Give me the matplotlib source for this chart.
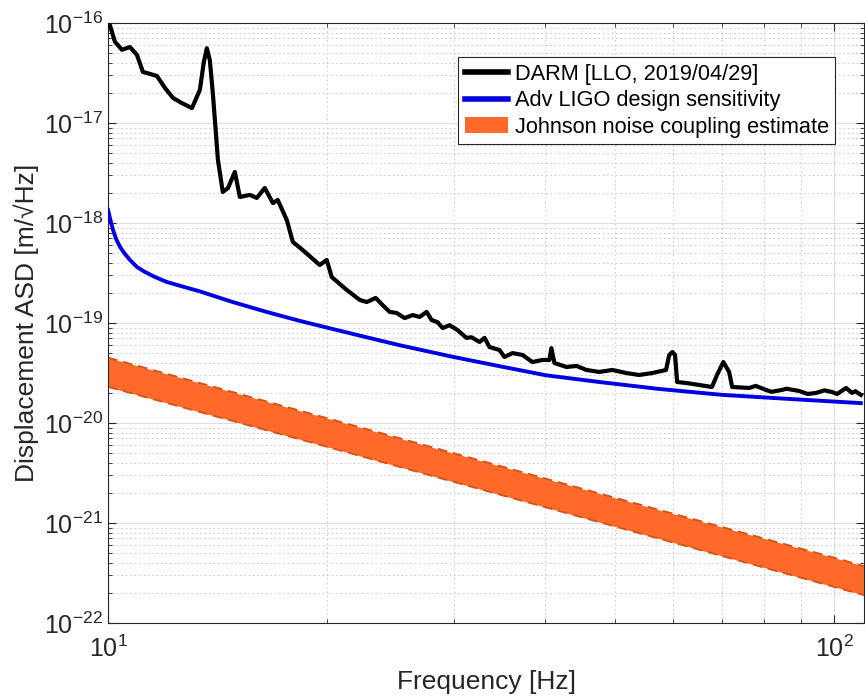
import numpy as np
import matplotlib
matplotlib.use("Agg")
import matplotlib.pyplot as plt
from matplotlib.patches import Patch
from matplotlib.ticker import LogLocator, NullFormatter

plt.rcParams["font.family"] = ["Liberation Sans", "DejaVu Sans"]
plt.rcParams["axes.unicode_minus"] = False

# DARM spectrum
darm_f = [10.00, 10.06, 10.22, 10.45, 10.72, 10.96, 11.17, 11.42, 11.68, 11.98,
          12.29, 12.64, 13.05, 13.38, 13.55, 13.68, 13.81, 13.95, 14.17, 14.39,
          14.63, 14.95, 15.19, 15.68, 16.03, 16.44, 16.87, 17.13, 17.63, 17.97,
          18.54, 19.57, 20.01, 20.33, 21.32, 22.22, 22.72, 23.37, 23.89, 24.43,
          24.97, 25.62, 26.28, 26.87, 27.47, 27.91, 28.44, 28.90, 29.54, 30.29,
          31.17, 31.67, 32.49, 33.01, 33.53, 34.61, 35.16, 36.07, 37.23, 38.42,
          39.66, 40.55, 40.80, 41.20, 42.8, 44.2, 45.6, 47.5, 49.5, 51.75,
          53.9, 56.2, 58.7, 59.3, 59.9, 60.4, 60.8, 62.6, 65.2, 67.9,
          69.0, 70.4, 71.7, 72.4, 76.4, 78.0, 80.6, 82.0, 84.8, 86.0,
          89.5, 92.0, 94.5, 97.0, 99.4, 101.0, 103.9, 105.9, 107.0, 108.9]
darm_asd = [1.00e-16, 9.5e-17, 6.5e-17, 5.4e-17, 5.75e-17, 4.8e-17, 3.24e-17, 3.1e-17, 2.95e-17, 2.24e-17,
            1.78e-17, 1.58e-17, 1.41e-17, 2.14e-17, 4.07e-17, 5.6e-17, 4.27e-17, 1.9e-17, 4.27e-18, 2.04e-18,
            2.24e-18, 3.24e-18, 1.82e-18, 1.91e-18, 1.78e-18, 2.24e-18, 1.58e-18, 1.70e-18, 1.07e-18, 6.46e-19,
            5.37e-19, 3.80e-19, 4.27e-19, 2.88e-19, 2.14e-19, 1.70e-19, 1.62e-19, 1.78e-19, 1.51e-19, 1.29e-19,
            1.26e-19, 1.12e-19, 1.20e-19, 1.15e-19, 1.29e-19, 1.07e-19, 1.02e-19, 8.9e-20, 9.5e-20, 8.5e-20,
            7.1e-20, 7.2e-20, 6.46e-20, 7.1e-20, 5.75e-20, 5.37e-20, 4.57e-20, 5.0e-20, 4.79e-20, 4.07e-20,
            4.27e-20, 4.27e-20, 5.6e-20, 3.98e-20, 3.63e-20, 3.72e-20, 3.39e-20, 3.24e-20, 3.39e-20, 3.16e-20,
            3.02e-20, 3.16e-20, 3.39e-20, 4.79e-20, 5.13e-20, 4.79e-20, 2.57e-20, 2.51e-20, 2.40e-20, 2.29e-20,
            3.02e-20, 4.07e-20, 3.24e-20, 2.29e-20, 2.24e-20, 2.35e-20, 2.14e-20, 2.05e-20, 2.14e-20, 2.2e-20,
            2.09e-20, 1.95e-20, 2.0e-20, 2.12e-20, 2.04e-20, 1.95e-20, 2.24e-20, 2.0e-20, 2.08e-20, 1.91e-20]

# aLIGO design curve
aligo_f = [10.00, 10.06, 10.16, 10.26, 10.39, 10.55, 10.72, 10.96, 11.24, 11.61,
           12.05, 12.68, 13.38, 14.85, 16.54, 18.37, 20.4, 22.7, 25.2, 29.8,
           34.6, 40.1, 47.5, 57.4, 70.2, 86.7, 108.9]
aligo_asd = [1.35e-18, 1.12e-18, 8.5e-19, 6.9e-19, 5.75e-19, 4.9e-19, 4.27e-19, 3.63e-19, 3.24e-19, 2.88e-19,
             2.57e-19, 2.31e-19, 2.07e-19, 1.62e-19, 1.29e-19, 1.05e-19, 8.7e-20, 7.2e-20, 6.0e-20, 4.6e-20,
             3.7e-20, 3.0e-20, 2.57e-20, 2.19e-20, 1.91e-20, 1.74e-20, 1.58e-20]

# Johnson noise band edges
jn_f = [10.0, 20.0, 50.0, 100.0, 110.0]
jn_hi = [4.5e-20, 1.12e-20, 1.78e-21, 4.5e-22, 3.7e-22]
jn_lo = [2.3e-20, 5.8e-21, 9.2e-22, 2.3e-22, 1.9e-22]

y_ticks = [1e-22, 1e-21, 1e-20, 1e-19, 1e-18, 1e-17, 1e-16]
x_ticks = [10, 100]

fig = plt.figure(figsize=(8.65, 6.97), dpi=100)
ax = fig.add_axes([0.1249, 0.1062, 0.874, 0.8608])

ax.fill_between(jn_f, jn_lo, jn_hi, color="#ff6a2a", lw=0, zorder=2)
ax.plot(jn_f, jn_hi, color="#d4541c", lw=1.4, ls=(0, (5, 3)), zorder=2.1)
ax.plot(jn_f, jn_lo, color="#d4541c", lw=1.4, ls=(0, (5, 3)), zorder=2.1)
ax.plot(aligo_f, aligo_asd, color="#0000e0", lw=2.8, zorder=3)
ax.plot(darm_f, darm_asd, color="black", lw=3.0, zorder=4, solid_joinstyle="round")

ax.set_xscale("log"); ax.set_yscale("log")
ax.set_xlim(10, 110); ax.set_ylim(1e-22, 1e-16)
ax.set_xticks(x_ticks)
ax.set_yticks(y_ticks)
ax.xaxis.set_minor_locator(LogLocator(base=10, subs=np.arange(2, 10)))
ax.xaxis.set_minor_formatter(NullFormatter())
ax.yaxis.set_minor_locator(LogLocator(base=10, subs=np.arange(2, 10), numticks=20))
ax.yaxis.set_minor_formatter(NullFormatter())

ax.set_axisbelow(True)
ax.grid(True, which="major", color="#dedede", lw=0.8, ls="-")
ax.grid(True, which="minor", color="#c4c4c4", lw=0.7, ls=(0, (1.5, 3)))
ax.tick_params(which="both", direction="in", top=True, right=True, color="#262626",
               labelsize=18, labelcolor="#262626")
ax.tick_params(which="major", length=6, width=0.8)
ax.tick_params(which="minor", length=3, width=0.6)
ax.tick_params(axis="x", pad=9)
for s in ax.spines.values():
    s.set_color("#262626"); s.set_linewidth(0.8)

ax.set_xlabel("Frequency [Hz]", fontsize=19, color="#262626", labelpad=6)
ax.set_ylabel("Displacement ASD [m/√Hz]", fontsize=19, color="#262626", labelpad=4)

handles = [plt.Line2D([], [], color="black", lw=4),
           plt.Line2D([], [], color="#0000e0", lw=4),
           Patch(facecolor="#ff6a2a", edgecolor="none")]
labels = ["DARM [LLO, 2019/04/29]", "Adv LIGO design sensitivity",
          "Johnson noise coupling estimate"]
leg = ax.legend(handles, labels, loc="upper right", bbox_to_anchor=(0.962, 0.943),
                borderaxespad=0, fontsize=15.7, fancybox=False, framealpha=1,
                edgecolor="#262626", handlelength=2.0, handletextpad=0.3,
                borderpad=0.3, labelspacing=0.25)
leg.get_frame().set_linewidth(0.8)

fig.savefig("out.png", dpi=100)
